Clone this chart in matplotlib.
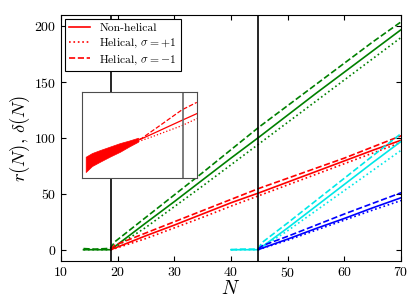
import matplotlib
matplotlib.use('Agg')
import matplotlib.pyplot as plt

plt.rcParams['font.family'] = 'serif'
plt.rcParams['font.serif'] = ['cmr10', 'DejaVu Serif']
plt.rcParams['mathtext.fontset'] = 'cm'
plt.rcParams['axes.formatter.use_mathtext'] = True

# green series (onset near N = 19)
n_green = [14, 16, 18, 18.8, 19.5, 25, 30, 35, 40, 45, 50, 55, 60, 65, 70]
green_solid = [0, 0, 0, 0, 2.7, 24, 43, 62.5, 82, 101, 120.5, 140, 159, 178, 197]
green_dash = [1, 0.5, 1, 1.5, 7, 29, 49, 69, 89.5, 110, 129, 148, 167, 186, 204]
green_dot = [0, 0, 0, 0, 2, 20, 38.5, 57, 76, 95, 114, 133, 152, 171, 190]

# red series
n_red = [18.8, 19.5, 25, 30, 35, 40, 45, 50, 55, 60, 65, 70]
red_solid = [0, 1.4, 12.5, 22, 32, 42, 51, 60.5, 70, 79.5, 89, 98]
red_dash = [0.5, 4, 15, 25, 35, 45, 55, 64, 73, 82, 92, 102]
red_dot = [0, 1, 10, 19.5, 29, 39, 48.5, 58, 67.5, 77, 86.5, 96]

# cyan series (onset near N = 45)
n_cyan = [40, 42, 44, 44.8, 45.5, 50, 55, 60, 65, 70]
cyan_solid = [0, 0, 0, 0, 2.7, 19.5, 39, 58.5, 78, 97]
cyan_dash = [0, 0.5, 0.5, 1, 6.5, 24, 44, 64, 84, 104]
cyan_dot = [0, 0, 0, 0, 2.3, 17, 35, 53, 71, 89]

# blue series
n_blue = [44.8, 45.5, 50, 55, 60, 65, 70]
blue_solid = [0, 1.4, 9.5, 19, 28, 37.5, 46.5]
blue_dash = [0.5, 3.5, 12, 22, 32, 41.5, 51]
blue_dot = [0, 1.2, 8.5, 17.5, 26.5, 35.5, 44]

vlines = [18.8, 44.8]

# inset (arbitrary units)
band_x = [3.7, 10, 18, 28, 38, 47, 56]
band_lo = [6, 12, 16.3, 21.5, 26.3, 31.5, 36.3]
band_hi = [21.3, 25, 28, 31.5, 35, 37.5, 40.3]
ins_x = [53, 70, 88, 100, 115.3]
ins_solid = [36.3, 44, 52.3, 57.8, 64.7]
ins_dash_x = [45, 59.7, 75, 90, 100, 114.7]
ins_dash = [34, 39.7, 50.5, 61.2, 68.3, 75.7]
ins_dot = [35.3, 41.3, 48, 52.5, 59.7]
ins_vline = 100.7

fig = plt.figure(figsize=(4.11, 3.08), dpi=100)
ax = fig.add_axes([0.148, 0.153, 0.828, 0.798])

lw = 1.2
for n, s, d, o, c in [(n_green, green_solid, green_dash, green_dot, 'g'),
                      (n_red, red_solid, red_dash, red_dot, 'r'),
                      (n_cyan, cyan_solid, cyan_dash, cyan_dot, '#00e8e8'),
                      (n_blue, blue_solid, blue_dash, blue_dot, 'b')]:
    ax.plot(n, s, color=c, ls='-', lw=lw)
    ax.plot(n, o, color=c, ls=':', lw=lw)
    ax.plot(n, d, color=c, ls='--', lw=lw)

for v in vlines:
    ax.axvline(v, color='k', lw=1.2)

# legend handles
h1, = ax.plot([], [], 'r-', lw=lw, label='Non-helical')
h2, = ax.plot([], [], 'r:', lw=lw, label=r'Helical, $\sigma=+1$')
h3, = ax.plot([], [], 'r--', lw=lw, label=r'Helical, $\sigma=-1$')
leg = ax.legend(handles=[h1, h2, h3], loc='upper left', fontsize=8.4,
                fancybox=False, edgecolor='k', framealpha=1,
                handlelength=1.8, borderaxespad=0.35, labelspacing=0.28,
                borderpad=0.35)
leg.get_frame().set_linewidth(0.8)

ax.set_xlim(10, 70)
ax.set_ylim(-10, 210)
ax.set_xticks([10, 20, 30, 40, 50, 60, 70])
ax.set_yticks([0, 50, 100, 150, 200])
ax.tick_params(direction='in', top=True, right=True, labelsize=10)
ax.set_xlabel(r'$N$', fontsize=14, labelpad=0)
ax.set_ylabel(r'$r(N),\,\delta(N)$', fontsize=13.5, labelpad=1.5)

ins = fig.add_axes([0.1995, 0.422, 0.28, 0.279])
ins.fill_between(band_x, band_lo, band_hi, color='r', lw=0.5)
ins.plot(ins_x, ins_solid, 'r-', lw=0.9)
ins.plot(ins_x, ins_dot, 'r:', lw=0.9)
ins.plot(ins_dash_x, ins_dash, 'r--', lw=0.9)
ins.axvline(ins_vline, color='0.4', lw=1.2)
ins.set_xlim(0, 115)
ins.set_ylim(0, 86)
ins.set_xticks([])
ins.set_yticks([])
for sp in ins.spines.values():
    sp.set_color('0.3')

fig.savefig('out.png', dpi=100)
